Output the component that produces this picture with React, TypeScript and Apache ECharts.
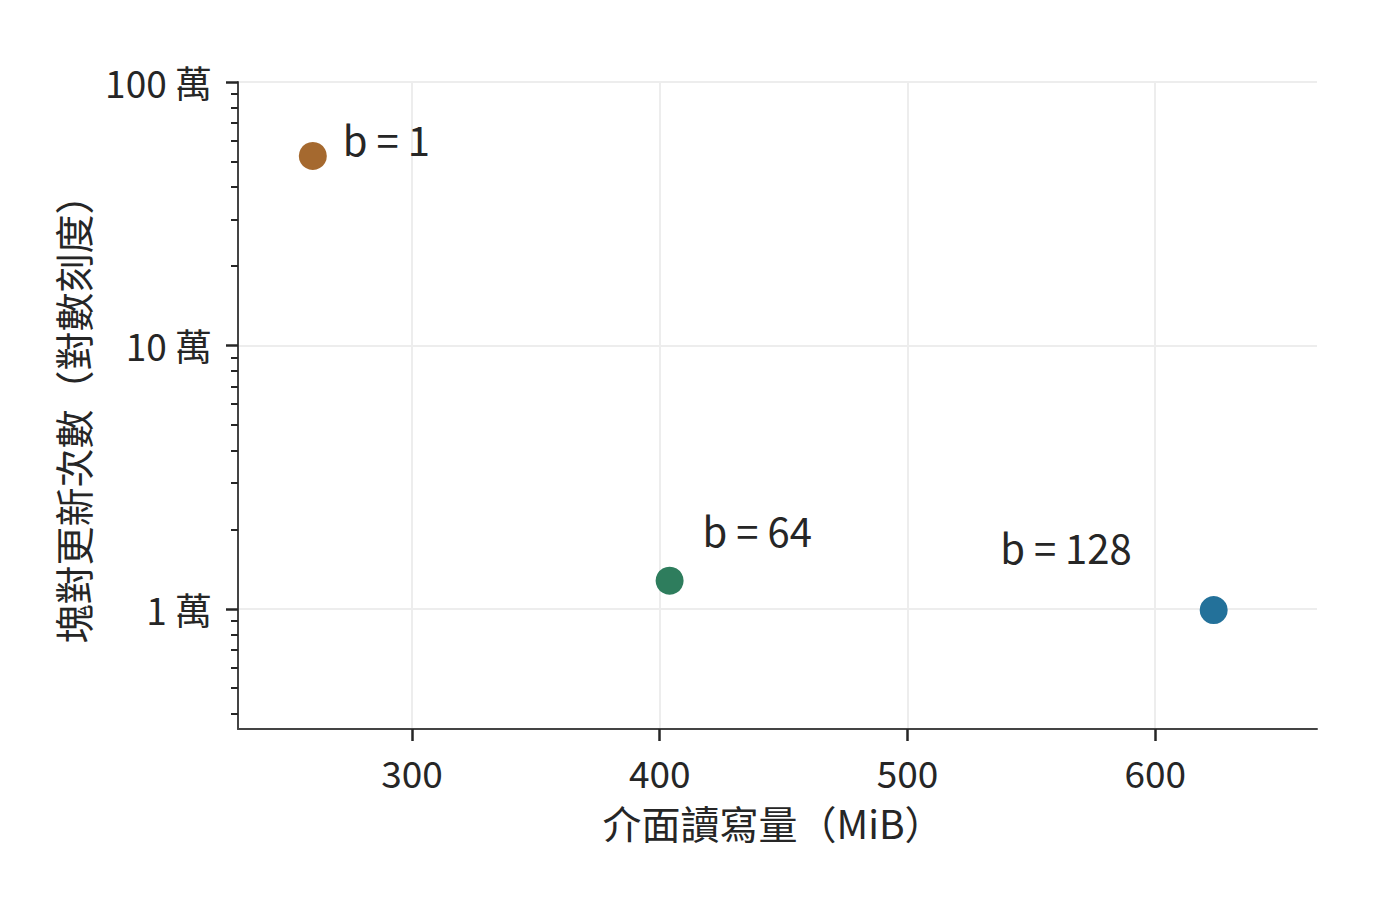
import { useEffect, useRef } from 'react';
import * as echarts from 'echarts';

// 資料
const pointLabels = ['b = 1', 'b = 64', 'b = 128'];
const ioMiB = [260, 404, 623.6];
const blockUpdates = [524288, 12800, 9900];
const pointColors = ['#a5692f', '#2e7d5d', '#23719a'];

const xTicks = [300, 400, 500, 600];
const yTicks = [10000, 100000, 1000000];
const yMinorTicks = [
  4000, 5000, 6000, 7000, 8000, 9000,
  20000, 30000, 40000, 50000, 60000, 70000, 80000, 90000,
  200000, 300000, 400000, 500000, 600000, 700000, 800000, 900000,
];

// label placement relative to each marker
const labelPlace: { position: 'left' | 'right'; offset: [number, number] }[] = [
  { position: 'right', offset: [16, -17] },
  { position: 'right', offset: [19, -51] },
  { position: 'left', offset: [-68, -63] },
];

const FONT = '"Noto Sans CJK TC", "Noto Sans CJK SC", sans-serif';
const TEXT = '#262626';
const GRID = '#ededed';

export default function App() {
  const ref = useRef<HTMLDivElement>(null);

  useEffect(() => {
    if (!ref.current) return;
    const chart = echarts.init(ref.current, null, { renderer: 'svg' });

    const yRange = { min: 3500, max: 1000000 };

    chart.setOption({
      animation: false,
      backgroundColor: '#ffffff',
      textStyle: { fontFamily: FONT },
      grid: { left: 238, right: 83, top: 82, bottom: 183 },
      xAxis: {
        type: 'value',
        min: 229.8,
        max: 665.3,
        name: '介面讀寫量（MiB）',
        nameLocation: 'middle',
        nameGap: 73,
        nameTextStyle: { fontSize: 39, color: TEXT, fontFamily: FONT, padding: [0, 9, 0, 0] },
        axisLine: { lineStyle: { color: '#444444', width: 2 } },
        axisTick: { customValues: xTicks, length: 12, lineStyle: { color: TEXT, width: 2.5 } },
        axisLabel: { customValues: xTicks, fontSize: 37, color: TEXT, margin: 24, fontFamily: FONT },
        splitLine: { show: true, lineStyle: { color: GRID, width: 2 } },
      },
      yAxis: [
        {
          type: 'log',
          logBase: 10,
          ...yRange,
          position: 'left',
          name: '塊對更新次數（對數刻度）',
          nameLocation: 'middle',
          nameRotate: 90,
          nameGap: 147,
          nameTextStyle: { fontSize: 39, color: TEXT, fontFamily: FONT, padding: [0, 8, 0, 0] },
          axisLine: { show: true, lineStyle: { color: '#444444', width: 2 } },
          axisTick: { show: true, customValues: yTicks, length: 12, lineStyle: { color: TEXT, width: 2.5 } },
          axisLabel: {
            customValues: yTicks,
            fontSize: 37,
            color: TEXT,
            margin: 26,
            fontFamily: FONT,
            formatter: (v: number) => `${Math.round(v / 10000)} 萬`,
          },
          splitLine: { show: true, lineStyle: { color: GRID, width: 2 } },
        },
        {
          type: 'log',
          logBase: 10,
          ...yRange,
          position: 'left',
          axisLine: { show: false },
          axisTick: { show: true, customValues: yMinorTicks, length: 7, lineStyle: { color: TEXT, width: 2 } },
          axisLabel: { show: false },
          splitLine: { show: false },
        },
      ],
      series: [
        {
          type: 'scatter',
          yAxisIndex: 0,
          symbolSize: 28,
          data: ioMiB.map((x, i) => ({
            value: [x, blockUpdates[i]],
            itemStyle: { color: pointColors[i], opacity: 1 },
            label: {
              show: true,
              formatter: pointLabels[i],
              position: labelPlace[i].position,
              distance: 0,
              offset: labelPlace[i].offset,
              fontSize: 40,
              color: TEXT,
              fontFamily: FONT,
            },
          })),
        },
      ],
    });

    return () => {
      chart.dispose();
    };
  }, []);

  return (
    <div
      ref={ref}
      style={{ position: 'fixed', left: 0, top: 0, width: '1400px', height: '912px', background: '#fff' }}
    />
  );
}
